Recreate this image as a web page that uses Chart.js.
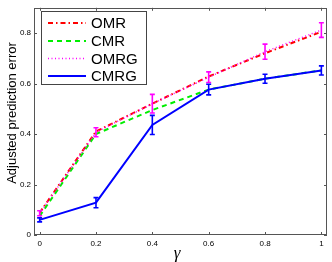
<!DOCTYPE html>
<html>
<head>
<meta charset="utf-8">
<script src="https://cdn.jsdelivr.net/npm/chart.js@4/dist/chart.umd.min.js"></script>
<style>
  html, body { margin: 0; padding: 0; background: #fff; }
  #wrap { width: 332px; height: 262px; }
</style>
</head>
<body>
<div id="wrap"><canvas id="chart" width="332" height="262"></canvas></div>
<script>
// values
const gamma = [0, 0.2, 0.4, 0.6, 0.8, 1];
const omr   = [0.088, 0.410, 0.520, 0.628, 0.720, 0.805];
const cmr   = [0.075, 0.400, 0.495, 0.576, 0.619, 0.652];
const omrg  = [0.086, 0.407, 0.520, 0.625, 0.726, 0.812];
const omrgErr = [0.010, 0.018, 0.037, 0.021, 0.030, 0.029];
const cmrg  = [0.060, 0.128, 0.436, 0.576, 0.619, 0.652];
const cmrgErr = [0.008, 0.020, 0.038, 0.021, 0.018, 0.018];

const seriesNames = ["OMR", "CMR", "OMRG", "CMRG"];
const xTicks = [0, 0.2, 0.4, 0.6, 0.8, 1];
const xTickLabels = ["0", "0.2", "0.4", "0.6", "0.8", "1"];
const yTicks = [0, 0.2, 0.4, 0.6, 0.8];
const yTickLabels = ["0", "0.2", "0.4", "0.6", "0.8"];


const styles = {
    OMR:  { color: "#ff0000", dash: [5, 3, 1.5, 3], width: 2 },
    CMR:  { color: "#00ee00", dash: [5, 4], width: 2 },
    OMRG: { color: "#ff00ff", dash: [1, 2.5], width: 1.5 },
    CMRG: { color: "#0000ff", dash: [], width: 2 }
};

const values = { OMR: omr, CMR: cmr, OMRG: omrg, CMRG: cmrg };
const drawOrder = { OMR: 3, CMR: 2, OMRG: 1, CMRG: 0 };

Chart.defaults.font.family = "'Liberation Sans', Arial, sans-serif";


function pts(ys) {
    return gamma.map((g, i) => ({ x: g, y: ys[i] }));
}


const matlabBits = {
    id: "matlabBits",

    afterDatasetsDraw(chart) {
        const ctx = chart.ctx;
        const xs = chart.scales.x;
        const ys = chart.scales.y;

        // error bars
        const bars = [
            { ys: omrg, err: omrgErr, color: "#ff00ff" },
            { ys: cmrg, err: cmrgErr, color: "#0000ff" }
        ];

        ctx.save();
        ctx.setLineDash([]);
        ctx.lineWidth = 1.6;

        bars.forEach(b => {
            ctx.strokeStyle = b.color;
            gamma.forEach((g, i) => {
                const px = xs.getPixelForValue(g);
                const top = ys.getPixelForValue(b.ys[i] + b.err[i]);
                const bot = ys.getPixelForValue(b.ys[i] - b.err[i]);
                ctx.beginPath();
                ctx.moveTo(px, top);
                ctx.lineTo(px, bot);
                ctx.moveTo(px - 2.5, top);
                ctx.lineTo(px + 2.5, top);
                ctx.moveTo(px - 2.5, bot);
                ctx.lineTo(px + 2.5, bot);
                ctx.stroke();
            });
        });

        ctx.restore();
    },

    afterDraw(chart) {
        const ctx = chart.ctx;
        const a = chart.chartArea;
        const xs = chart.scales.x;
        const ys = chart.scales.y;

        ctx.save();

        // axes box
        ctx.strokeStyle = "#555";
        ctx.lineWidth = 1;
        ctx.strokeRect(
            Math.round(a.left) + 0.5,
            Math.round(a.top) + 0.5,
            Math.round(a.right - a.left) - 1,
            Math.round(a.bottom - a.top) - 1
        );

        // inward ticks
        ctx.beginPath();
        xTicks.forEach(v => {
            const px = Math.round(xs.getPixelForValue(v)) + 0.5;
            ctx.moveTo(px, a.bottom);
            ctx.lineTo(px, a.bottom - 3);
            ctx.moveTo(px, a.top);
            ctx.lineTo(px, a.top + 3);
        });
        yTicks.forEach(v => {
            const py = Math.round(ys.getPixelForValue(v)) + 0.5;
            ctx.moveTo(a.left, py);
            ctx.lineTo(a.left + 3, py);
            ctx.moveTo(a.right, py);
            ctx.lineTo(a.right - 3, py);
        });
        ctx.stroke();

        // legend
        const lx = 41, ly = 11, lw = 105, lh = 73;
        ctx.fillStyle = "#fff";
        ctx.fillRect(lx, ly, lw, lh);
        ctx.strokeStyle = "#444";
        ctx.strokeRect(lx + 0.5, ly + 0.5, lw, lh);

        const rows = [23, 41, 58.5, 76];
        seriesNames.forEach((name, i) => {
            const s = styles[name];
            ctx.strokeStyle = s.color;
            ctx.lineWidth = s.width;
            ctx.setLineDash(s.dash);
            ctx.beginPath();
            ctx.moveTo(48, rows[i]);
            ctx.lineTo(86, rows[i]);
            ctx.stroke();

            ctx.setLineDash([]);
            ctx.fillStyle = "#000";
            ctx.font = "15px 'Liberation Sans', Arial, sans-serif";
            ctx.textBaseline = "middle";
            ctx.textAlign = "left";
            ctx.fillText(name, 91, rows[i] + 1);
        });

        // axis titles
        ctx.fillStyle = "#000";
        ctx.font = "13px 'Liberation Sans', Arial, sans-serif";
        ctx.textAlign = "center";
        ctx.textBaseline = "middle";
        ctx.save();
        ctx.translate(12, 113);
        ctx.rotate(-Math.PI / 2);
        ctx.fillText("Adjusted prediction error", 0, 0);
        ctx.restore();

        ctx.font = "italic 17px 'Liberation Serif', 'DejaVu Serif', serif";
        ctx.fillText("\u03b3", 177, 254);

        ctx.restore();
    }
};


new Chart(document.getElementById("chart"), {

    type: "line",

    data: {
        datasets: seriesNames.map(name => ({
            label: name,
            data: pts(values[name]),
            borderColor: styles[name].color,
            borderWidth: styles[name].width,
            borderDash: styles[name].dash,
            pointRadius: 0,
            fill: false,
            tension: 0,
            order: drawOrder[name]
        }))
    },

    options: {
        responsive: false,
        animation: false,
        devicePixelRatio: 1,
        layout: {
            padding: { left: 0, right: 5, top: 4, bottom: 0 }
        },
        plugins: {
            legend: { display: false },
            tooltip: { enabled: false }
        },
        scales: {
            x: {
                type: "linear",
                min: -0.02,
                max: 1.02,
                afterBuildTicks: s => {
                    s.ticks = xTicks.map(v => ({ value: v }));
                },
                afterFit: s => { s.height = 27; },
                grid: { display: false, drawTicks: false },
                border: { display: false },
                ticks: {
                    padding: 4,
                    color: "#000",
                    font: { size: 8 },
                    maxRotation: 0,
                    callback: (v) => xTickLabels[xTicks.indexOf(v)]
                }
            },
            y: {
                type: "linear",
                min: 0,
                max: 0.9,
                afterBuildTicks: s => {
                    s.ticks = yTicks.map(v => ({ value: v }));
                },
                afterFit: s => { s.width = 34; },
                grid: { display: false, drawTicks: false },
                border: { display: false },
                ticks: {
                    padding: 3,
                    color: "#000",
                    font: { size: 8 },
                    callback: (v) => yTickLabels[yTicks.indexOf(v)]
                }
            }
        }
    },

    plugins: [matlabBits]
});
</script>
</body>
</html>
